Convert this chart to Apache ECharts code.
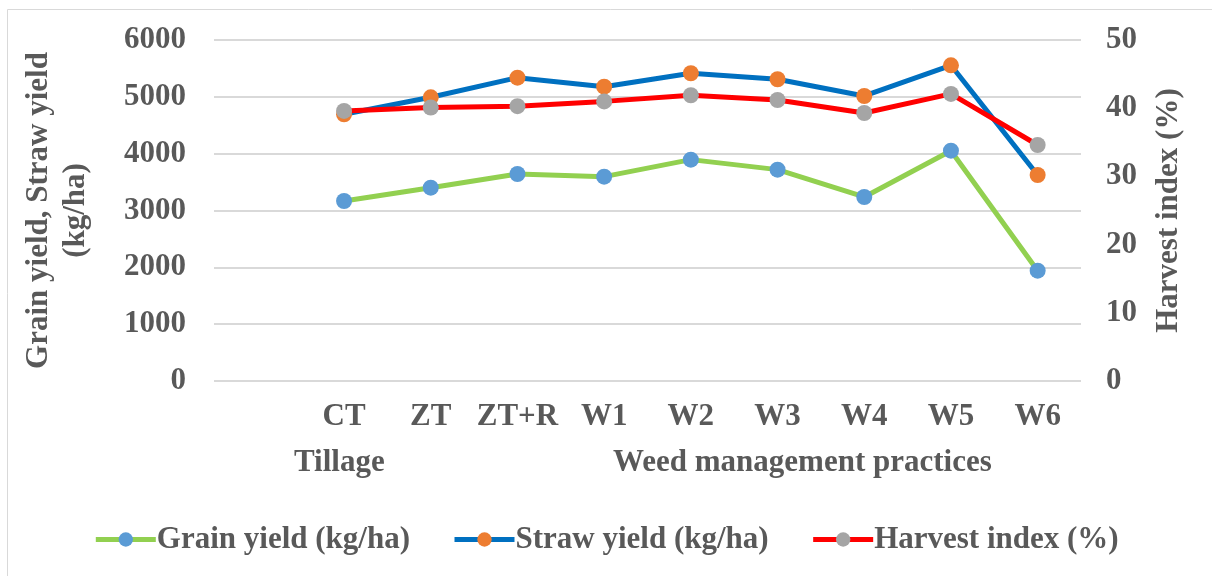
<!DOCTYPE html>
<html>
<head>
<meta charset="utf-8">
<script src="https://cdn.jsdelivr.net/npm/echarts@6/dist/echarts.min.js"></script>
<style>
  html, body { margin: 0; padding: 0; background: #fff; }
  #chart { width: 1212px; height: 576px; }
</style>
</head>
<body>
<div id="chart"></div>
<script>
// first slot is the empty category Excel leaves before CT
const categories = ['', 'CT', 'ZT', 'ZT+R', 'W1', 'W2', 'W3', 'W4', 'W5', 'W6']
const grainYield = [null, 3167, 3401, 3642, 3596, 3895, 3719, 3238, 4052, 1941]
const strawYield = [null, 4693, 4992, 5337, 5179, 5415, 5309, 5015, 5555, 3625]
const harvestIndex = [null, 39.6, 40.1, 40.3, 41.0, 41.9, 41.2, 39.3, 42.1, 34.6]
const leftTicks = { min: 0, max: 6000, interval: 1000 }
const rightTicks = { min: 0, max: 50, interval: 10 }

const font = 'Liberation Serif'
const grey = '#595959'
const fs = 31

const chart = echarts.init(document.getElementById('chart'))

const lineSeries = (name, data, lineColor, dotColor, yAxisIndex) => ({
  name,
  type: 'line',
  data,
  yAxisIndex,
  symbol: 'circle',
  symbolSize: 16,
  lineStyle: { color: lineColor, width: 5 },
  itemStyle: { color: dotColor },
  emphasis: { disabled: true }
})

chart.setOption({
  animation: false,
  textStyle: { fontFamily: font },
  grid: { left: 214, right: 131, top: 40, bottom: 195 },
  legend: {
    bottom: 16,
    itemWidth: 60,
    itemHeight: 18,
    itemGap: 42,
    lineStyle: { width: 5 },
    textStyle: { fontFamily: font, fontWeight: 'bold', fontSize: fs, color: grey, padding: [0, 0, 0, -4] }
  },
  xAxis: {
    type: 'category',
    data: categories,
    axisLine: { show: false },
    axisTick: { show: false },
    axisLabel: { margin: 20, fontFamily: font, fontWeight: 'bold', fontSize: fs, color: grey, interval: 0 }
  },
  yAxis: [
    {
      type: 'value',
      ...leftTicks,
      name: 'Grain yield, Straw yield\n(kg/ha)',
      nameLocation: 'middle',
      nameGap: 120,
      nameTextStyle: { fontFamily: font, fontWeight: 'bold', fontSize: fs, color: grey, lineHeight: 37 },
      axisLine: { show: false },
      axisTick: { show: false },
      axisLabel: { margin: 28, fontFamily: font, fontWeight: 'bold', fontSize: fs, color: grey, formatter: v => String(v) },
      splitLine: { lineStyle: { color: '#d9d9d9', width: 2 } }
    },
    {
      type: 'value',
      ...rightTicks,
      name: 'Harvest index (%)',
      nameLocation: 'middle',
      nameGap: 72,
      nameTextStyle: { fontFamily: font, fontWeight: 'bold', fontSize: fs, color: grey },
      axisLine: { show: false },
      axisTick: { show: false },
      axisLabel: { margin: 25, fontFamily: font, fontWeight: 'bold', fontSize: fs, color: grey },
      splitLine: { show: false }
    }
  ],
  graphic: [
    {
      type: 'rect',
      shape: { x: 7.5, y: 9.5, width: 1220, height: 600 },
      style: { fill: 'none', stroke: '#d9d9d9', lineWidth: 1 },
      silent: true
    },
    {
      type: 'text',
      left: 294, top: 447,
      style: { text: 'Tillage', fontFamily: font, fontWeight: 'bold', fontSize: fs, fill: grey }
    },
    {
      type: 'text',
      left: 613, top: 447,
      style: { text: 'Weed management practices', fontFamily: font, fontWeight: 'bold', fontSize: fs, fill: grey }
    }
  ],
  series: [
    lineSeries('Grain yield (kg/ha)', grainYield, '#92D050', '#5B9BD5', 0),
    lineSeries('Straw yield (kg/ha)', strawYield, '#0070C0', '#ED7D31', 0),
    lineSeries('Harvest index (%)', harvestIndex, '#FF0000', '#A5A5A5', 1)
  ]
})
</script>
</body>
</html>
